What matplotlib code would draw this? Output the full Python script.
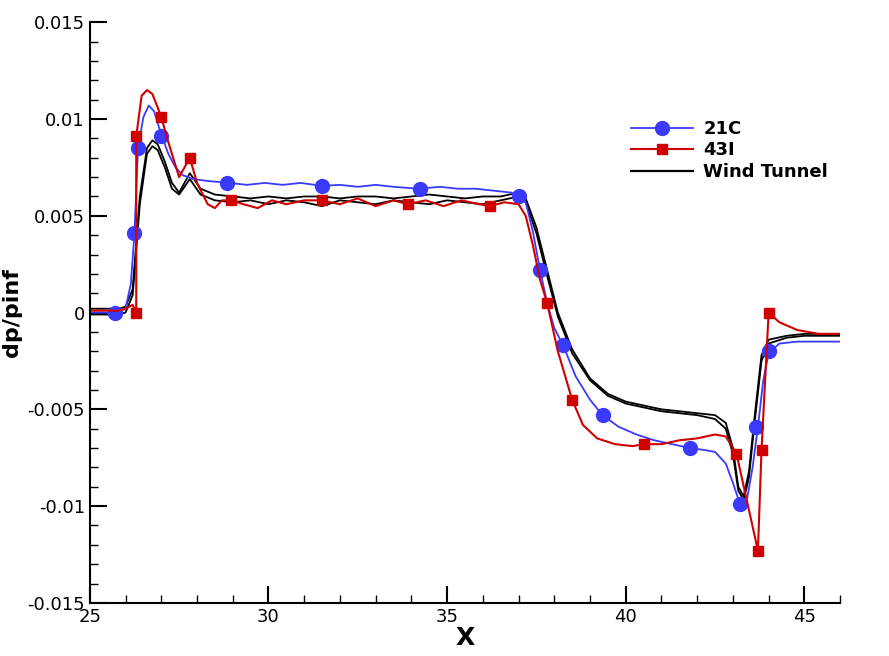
import numpy as np
import matplotlib.pyplot as plt
from matplotlib.lines import Line2D
from matplotlib.ticker import MultipleLocator

# 21C curve
c21_x = [25.0, 25.5, 25.8, 26.0, 26.15, 26.25, 26.35, 26.5, 26.65, 26.8, 27.0, 27.2, 27.4, 27.6, 27.9,
         28.3, 28.9, 29.4, 29.9, 30.4, 30.9, 31.5, 32.0, 32.5, 33.0, 33.5, 34.2, 34.8, 35.3, 35.8,
         36.3, 36.8, 37.0, 37.2, 37.4, 37.6, 37.8, 38.0, 38.25, 38.6, 39.0, 39.35, 39.8, 40.3, 40.8,
         41.3, 41.8, 42.2, 42.5, 42.8, 43.0, 43.2, 43.4, 43.55, 43.7, 43.85, 44.0, 44.3, 44.8, 45.5, 46.0]
c21_y = [0.0, 0.0, 0.0, 0.0002, 0.0015, 0.0041, 0.0085, 0.0101, 0.0107, 0.0104, 0.0092, 0.0082, 0.0075,
         0.0071, 0.0069, 0.0068, 0.0067, 0.0066, 0.0067, 0.0066, 0.0067, 0.00655, 0.0066, 0.0065, 0.0066,
         0.0065, 0.0064, 0.0065, 0.0064, 0.0064, 0.0063, 0.0062, 0.0060, 0.0057, 0.0042, 0.0022, 0.0005,
         -0.0008, -0.0017, -0.0033, -0.0045, -0.0053, -0.0059, -0.0063, -0.0066, -0.0068, -0.0070,
         -0.0071, -0.0072, -0.0078, -0.0088, -0.0099, -0.0096, -0.0080, -0.0059, -0.0035, -0.0021,
         -0.0016, -0.0015, -0.0015, -0.0015]
c21_mx = [25.7, 26.25, 26.35, 27.0, 28.85, 31.5, 34.25, 37.0, 37.6, 38.25, 39.35, 41.8, 43.2, 43.65, 44.0]
c21_my = [0.0, 0.0041, 0.0085, 0.0091, 0.0067, 0.00655, 0.0064, 0.0060, 0.0022, -0.0017, -0.0053,
          -0.0070, -0.0099, -0.0059, -0.0020]

# 43I curve
c43_x = [25.0, 25.8, 26.0, 26.2, 26.3, 26.3, 26.45, 26.6, 26.75, 26.9, 27.0, 27.2, 27.5, 27.8, 28.0,
         28.3, 28.5, 28.7, 28.95, 29.3, 29.7, 30.1, 30.5, 31.0, 31.5, 32.0, 32.5, 33.0, 33.5, 33.9,
         34.4, 34.9, 35.4, 35.9, 36.2, 36.6, 37.0, 37.2, 37.4, 37.6, 37.8, 38.1, 38.5, 38.8, 39.2,
         39.7, 40.2, 40.5, 41.0, 41.5, 42.0, 42.5, 42.8, 43.1, 43.7, 43.8, 44.0, 44.3, 44.8, 45.4, 46.0]
c43_y = [0.0001, 0.0001, 0.0002, 0.0004, 0.0, 0.0091, 0.0112, 0.0115, 0.0113, 0.0106, 0.0101, 0.0088,
         0.0070, 0.0080, 0.0067, 0.0056, 0.0054, 0.0058, 0.0058, 0.0056, 0.0054, 0.0058, 0.0056, 0.0058,
         0.0058, 0.0056, 0.0059, 0.0055, 0.0058, 0.0056, 0.0058, 0.0055, 0.0058, 0.0056, 0.0055, 0.0057,
         0.0056, 0.0050, 0.0035, 0.0017, 0.0005, -0.0020, -0.0045, -0.0058, -0.0065, -0.0068, -0.0069,
         -0.0068, -0.0068, -0.0066, -0.0065, -0.0063, -0.0064, -0.0073, -0.0123, -0.0071, 0.0,
         -0.0005, -0.0009, -0.0011, -0.0011]
c43_mx = [26.3, 26.3, 27.0, 27.8, 28.95, 31.5, 33.9, 36.2, 37.8, 38.5, 40.5, 43.1, 43.7, 43.8, 44.0]
c43_my = [0.0, 0.0091, 0.0101, 0.0080, 0.0058, 0.0058, 0.0056, 0.0055, 0.0005, -0.0045, -0.0068,
          -0.0073, -0.0123, -0.0071, 0.0]

# Wind tunnel (two runs)
wt_x = [25.0, 25.8, 26.0, 26.2, 26.4, 26.6, 26.75, 26.9, 27.1, 27.3, 27.5, 27.8, 28.1, 28.5, 29.0,
        29.5, 30.0, 30.5, 31.0, 31.5, 32.0, 32.5, 33.0, 33.5, 34.0, 34.5, 35.0, 35.5, 36.0, 36.5,
        37.0, 37.2, 37.5, 37.8, 38.1, 38.5, 39.0, 39.5, 40.0, 40.5, 41.0, 41.5, 42.0, 42.5, 42.8,
        43.0, 43.15, 43.3, 43.45, 43.6, 43.8, 44.0, 44.5, 45.0, 46.0]
wt1_y = [0.0002, 0.0002, 0.0003, 0.0012, 0.0060, 0.0085, 0.0089, 0.0087, 0.0078, 0.0067, 0.0062,
         0.0072, 0.0064, 0.0061, 0.0060, 0.0059, 0.0060, 0.0059, 0.0060, 0.0060, 0.0059, 0.0060,
         0.0060, 0.0059, 0.0060, 0.0061, 0.0060, 0.0059, 0.0060, 0.0060, 0.0062, 0.0059, 0.0044,
         0.0022, 0.0000, -0.0019, -0.0034, -0.0042, -0.0046, -0.0048, -0.0050, -0.0051, -0.0052,
         -0.0053, -0.0057, -0.0070, -0.0090, -0.0095, -0.0082, -0.0055, -0.0022, -0.0014, -0.0012,
         -0.0011, -0.0011]
wt2_y = [-0.0001, -0.0001, 0.0, 0.0009, 0.0056, 0.0082, 0.0086, 0.0084, 0.0075, 0.0064, 0.0061,
         0.0069, 0.0061, 0.0058, 0.0057, 0.0058, 0.0056, 0.0058, 0.0057, 0.0055, 0.0058, 0.0057,
         0.0056, 0.0058, 0.0057, 0.0056, 0.0058, 0.0057, 0.0056, 0.0058, 0.0060, 0.0057, 0.0041,
         0.0019, -0.0002, -0.0021, -0.0035, -0.0043, -0.0047, -0.0049, -0.0051, -0.0052, -0.0053,
         -0.0055, -0.0060, -0.0073, -0.0092, -0.0097, -0.0085, -0.0058, -0.0025, -0.0016, -0.0013,
         -0.0012, -0.0012]

blue = '#3a3aff'
red = '#d00000'

fig = plt.figure(figsize=(8.89, 6.56), dpi=100)
ax = fig.add_axes([0.101, 0.081, 0.844, 0.885])

ax.plot(wt_x, wt1_y, color='black', lw=1.3)
ax.plot(wt_x, wt2_y, color='black', lw=1.3)
ax.plot(c21_x, c21_y, color=blue, lw=1.3)
ax.plot(c21_mx, c21_my, 'o', color=blue, ms=10, ls='none')
ax.plot(c43_x, c43_y, color=red, lw=1.5)
ax.plot(c43_mx, c43_my, 's', color=red, ms=7, ls='none')

ax.set_xlim(25, 46)
ax.set_ylim(-0.015, 0.015)
ax.xaxis.set_major_locator(MultipleLocator(5))
ax.xaxis.set_minor_locator(MultipleLocator(1))
ax.yaxis.set_major_locator(MultipleLocator(0.005))
ax.yaxis.set_minor_locator(MultipleLocator(0.001))
ax.set_yticks([-0.015, -0.01, -0.005, 0, 0.005, 0.01, 0.015])
ax.set_yticklabels(['-0.015', '-0.01', '-0.005', '0', '0.005', '0.01', '0.015'])
ax.tick_params(which='major', direction='in', length=12, width=1.5, labelsize=13)
ax.tick_params(which='minor', direction='in', length=6, width=1)
ax.spines['top'].set_visible(False)
ax.spines['right'].set_visible(False)
ax.spines['left'].set_linewidth(1.5)
ax.spines['bottom'].set_linewidth(1.5)
ax.set_xlabel('X', fontsize=18, fontweight='bold', labelpad=0)
ax.set_ylabel('dp/pinf', fontsize=16, fontweight='bold')

handles = [Line2D([], [], color=blue, marker='o', ms=10, lw=1.3),
           Line2D([], [], color=red, marker='s', ms=7, lw=1.5),
           Line2D([], [], color='black', lw=1.6)]
ax.legend(handles, ['21C', '43I', 'Wind Tunnel'], loc='upper left', bbox_to_anchor=(0.70, 0.86),
          frameon=False, handlelength=3.4, handletextpad=0.6, labelspacing=0.2,
          prop={'weight': 'bold', 'size': 13})

fig.savefig('out.png')
